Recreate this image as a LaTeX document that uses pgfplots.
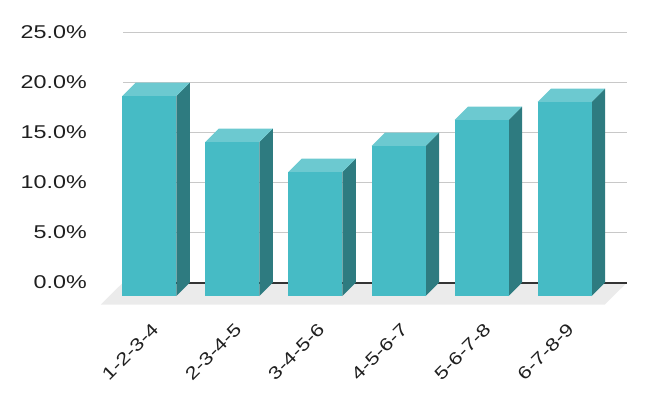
\documentclass[border=0pt]{standalone}
\usepackage{pgfplots}
\pgfplotsset{compat=1.18}
\usepackage{pgfplotstable}
\usepackage{fontspec}
\setmainfont[FakeStretch=1.26]{Liberation Sans}
\definecolor{frontc}{HTML}{46BBC5}
\definecolor{topc}{HTML}{6CC9D0}
\definecolor{sidec}{HTML}{2E7B80}
\definecolor{floorc}{HTML}{EBEBEB}
\definecolor{gridc}{HTML}{C8C8C8}
\definecolor{zeroc}{HTML}{333333}

\pgfplotstableread{
i v
0 20.0
1 15.4
2 12.4
3 15.0
4 17.6
5 19.4
}\data

\begin{document}
\begin{tikzpicture}
\useasboundingbox (0,0) rectangle (646pt,400pt);
\begin{axis}[
  at={(123pt,95.5pt)}, anchor=south west,
  scale only axis, width=504pt, height=272pt,
  xmin=-0.479, xmax=5.587, ymin=-2.2, ymax=25,
  clip=false,
  axis line style={draw=none},
  tick style={draw=none},
  ytick={0,5,10,15,20,25},
  yticklabels={0.0\%,5.0\%,10.0\%,15.0\%,20.0\%,25.0\%},
  yticklabel style={anchor=east, inner sep=0pt, xshift=-36pt, text=black!88, font=\fontsize{18.5}{20}\selectfont},
  ymajorgrids, grid style={gridc, line width=1.3pt},
  xtick={-0.09,0.91,1.91,2.91,3.91,4.91},
  xticklabels={1-2-3-4,2-3-4-5,3-4-5-6,4-5-6-7,5-6-7-8,6-7-8-9},
  xticklabel style={yshift=-22pt, rotate=45, anchor=east, inner sep=0pt, text=black!88, font=\fontsize{17.5}{19}\selectfont},
]
\addplot[draw=none, fill=floorc] coordinates {(-0.744,-2.2) (5.322,-2.2) (5.587,0) (-0.479,0)} -- cycle;
\addplot[zeroc, line width=2pt] coordinates {(-0.479,0) (5.587,0)};
\pgfplotsforeachungrouped \k in {0,1,2,3,4,5}{%
  \pgfplotstablegetelem{\k}{v}\of\data
  \let\myv\pgfplotsretval
  \pgfmathsetmacro\xa{\k-0.1625-0.325}%
  \pgfmathsetmacro\xb{\k-0.1625+0.325}%
  \pgfmathsetmacro\xc{\k+0.325}%
  \pgfmathsetmacro\xd{\k-0.325}%
  \pgfmathsetmacro\yf{\myv-1.35}%
  \edef\temp{%
    \noexpand\addplot[draw=none, fill=sidec] coordinates {(\xb,-1.35) (\xc,0) (\xc,\myv) (\xb,\yf)} -- cycle;
    \noexpand\addplot[draw=none, fill=topc] coordinates {(\xa,\yf) (\xb,\yf) (\xc,\myv) (\xd,\myv)} -- cycle;
    \noexpand\addplot[draw=none, fill=frontc] coordinates {(\xa,-1.35) (\xb,-1.35) (\xb,\yf) (\xa,\yf)} -- cycle;
  }\temp
}
\end{axis}
\end{tikzpicture}
\end{document}
